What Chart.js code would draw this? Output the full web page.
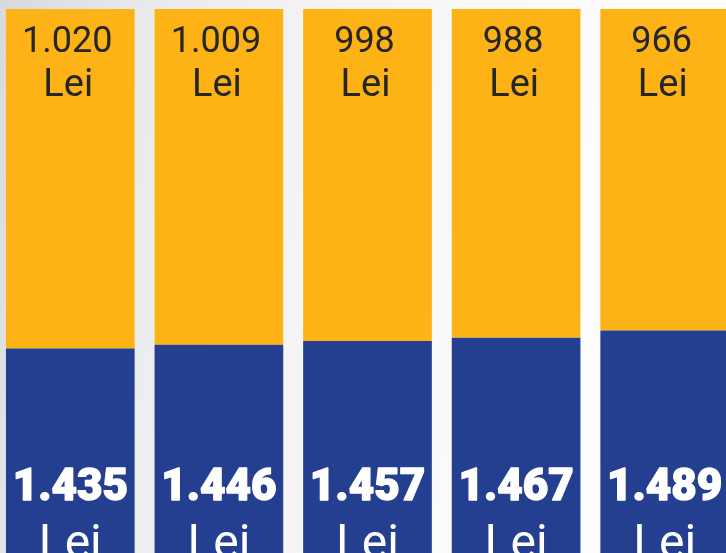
<!DOCTYPE html>
<html>
<head>
<meta charset="utf-8">
<script src="https://cdn.jsdelivr.net/npm/chart.js@4.4.1/dist/chart.umd.min.js"></script>
<style>
  html, body {
    margin: 0;
    padding: 0;
    width: 726px;
    height: 553px;
    overflow: hidden;
  }
  body {
    position: relative;
    background: linear-gradient(100deg, #d8d9db 0%, #e9eaeb 18%, #f3f3f4 38%, #f9f9f9 58%, #fdfdfd 78%, #ffffff 100%);
  }
  #chart {
    position: absolute;
    left: -4px;
    top: 0;
  }
</style>
</head>
<body>
<canvas id="chart" width="743" height="826"></canvas>
<script>
const categories = ["1", "2", "3", "4", "5"];
const blueValues = [1435, 1446, 1457, 1467, 1489];
const yellowValues = [1020, 1009, 998, 988, 966];
const unitLabel = "Lei";

const BLUE = "#243f8f";
const YELLOW = "#fdb316";
const FONT = "Roboto, 'Liberation Sans', sans-serif";

// 1435 -> "1.435"
const formatLei = (value) => String(value).replace(/\B(?=(\d{3})+(?!\d))/g, ".");

const barLabels = {
  id: "barLabels",
  afterDatasetsDraw(chart) {
    const ctx = chart.ctx;
    ctx.save();
    ctx.textAlign = "center";
    ctx.textBaseline = "alphabetic";

    chart.getDatasetMeta(1).data.forEach((bar, i) => {
      ctx.fillStyle = "#262626";
      ctx.font = `400 36px ${FONT}`;
      ctx.fillText(formatLei(yellowValues[i]), bar.x - 3, bar.y + 43);
      ctx.font = `400 38px ${FONT}`;
      ctx.fillText(unitLabel, bar.x - 2, bar.y + 87);
    });

    chart.getDatasetMeta(0).data.forEach((bar, i) => {
      ctx.fillStyle = "#ffffff";
      ctx.strokeStyle = "#ffffff";
      ctx.lineWidth = 1.4;
      ctx.lineJoin = "round";
      ctx.font = `900 44px ${FONT}`;
      ctx.fillText(formatLei(blueValues[i]), bar.x, bar.base - 326);
      ctx.strokeText(formatLei(blueValues[i]), bar.x, bar.base - 326);
      ctx.font = `400 48px ${FONT}`;
      ctx.fillText(unitLabel, bar.x, bar.base - 268);
    });

    ctx.restore();
  },
};

new Chart(document.getElementById("chart"), {
  type: "bar",
  data: {
    labels: categories,
    datasets: [
      { data: blueValues, backgroundColor: BLUE },
      { data: yellowValues, backgroundColor: YELLOW },
    ],
  },
  options: {
    responsive: false,
    animation: false,
    layout: { padding: { top: 9, left: 0, right: 0, bottom: 0 } },
    datasets: {
      bar: { barPercentage: 0.866, categoryPercentage: 1, borderWidth: 0 },
    },
    plugins: {
      legend: { display: false },
      tooltip: { enabled: false },
    },
    scales: {
      x: { stacked: true, display: false },
      y: { stacked: true, display: false, min: 0, max: 2455 },
    },
  },
  plugins: [barLabels],
});
</script>
</body>
</html>
